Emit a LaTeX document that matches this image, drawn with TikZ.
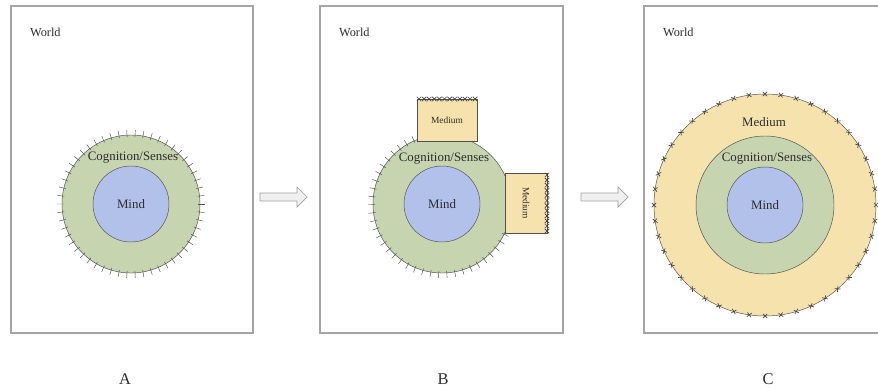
\documentclass[tikz,border=0pt]{standalone}
\usepackage{fontspec}
\setmainfont{Liberation Serif}
\usetikzlibrary{positioning}

\definecolor{senseGreen}{RGB}{198,212,176}
\definecolor{mindBlue}{RGB}{177,193,233}
\definecolor{mediumYellow}{RGB}{246,226,172}
\definecolor{edgeGray}{RGB}{80,80,80}
\definecolor{frameGray}{RGB}{165,165,165}
\definecolor{textGray}{RGB}{45,45,45}

\begin{document}
\begin{tikzpicture}[x=0.03cm,y=-0.03cm,
    every node/.style={text=textGray},
    frame/.style={draw=frameGray,line width=1.6pt},
    senses/.style={circle,draw=edgeGray,fill=senseGreen,minimum size=4.14cm,inner sep=0pt},
    mind/.style={circle,draw=edgeGray,fill=mindBlue,minimum size=2.28cm,inner sep=0pt,font=\fontsize{11}{13}\selectfont},
    medium/.style={circle,draw=edgeGray,fill=mediumYellow,minimum size=6.66cm,inner sep=0pt},
    mediumbox/.style={draw=edgeGray,fill=mediumYellow,inner sep=0pt,font=\footnotesize},
    label/.style={font=\fontsize{11}{13}\selectfont},
    world/.style={anchor=west,font=\fontsize{10.5}{12}\selectfont},
    tickline/.style={edgeGray,line width=0.4pt},
    xmark/.style={edgeGray!80!black,line width=0.55pt},
    blockarrow/.style={draw=gray!75,fill=gray!12,line width=0.6pt},
    panellabel/.style={font=\fontsize{14}{16}\selectfont}]
    \clip (0,0) rectangle (878,389);

    % panels
    \draw[frame] (11,6) rectangle (253,333);
    \draw[frame] (320,6) rectangle (563,333);
    \draw[frame] (644,6) rectangle (890,333);
    \node[world] (worldA) at (26,32) {World};
    \node[world] (worldB) at (335,32) {World};
    \node[world] (worldC) at (659,32) {World};

    % A
    \node[senses] (sensesA) at (131,204) {};
    \foreach \a in {0,6.667,...,359} {
        \draw[tickline,shift={(131,204)}] (\a:67) -- (\a:74);
    }
    \node[mind] (mindA) at (131,204) {Mind};
    \node[label] (cogA) at (133,158) {Cognition/Senses};

    % B
    \node[senses] (sensesB) at (442,204) {};
    \foreach \a in {26,32.67,...,247} {
        \draw[tickline,shift={(442,204)}] (\a:67) -- (\a:74);
    }
    \node[mind] (mindB) at (442,204) {Mind};
    \node[label] (cogB) at (444,159) {Cognition/Senses};
    \node[mediumbox,minimum width=1.8cm,minimum height=1.26cm] (mediumTop) at (447,120) {Medium};
    \node[mediumbox,minimum width=1.26cm,minimum height=1.8cm] (mediumRight) at (526,203) {\rotatebox{-90}{Medium}};
    \foreach \i in {0,...,11} {
        \draw[xmark] (419+\i*5.1,99) +(-2.2,-2.2) -- +(2.2,2.2) +(-2.2,2.2) -- +(2.2,-2.2);
        \draw[xmark] (547,175+\i*5.1) +(-2.2,-2.2) -- +(2.2,2.2) +(-2.2,2.2) -- +(2.2,-2.2);
    }

    % C
    \node[medium] (mediumC) at (765,205) {};
    \foreach \a in {0,8.18,...,359} {
        \draw[xmark,shift={(765,205)}] (\a:111) +(\a+45:3) -- +(\a+225:3) +(\a-45:3) -- +(\a+135:3);
    }
    \node[senses] (sensesC) at (765,205) {};
    \node[mind] (mindC) at (765,205) {Mind};
    \node[label] (cogC) at (767,159) {Cognition/Senses};
    \node[label] (medC) at (764,122) {Medium};

    % arrows
    \draw[blockarrow] (260,193) -- (297,193) -- (297,187) -- (307,197) -- (297,207) -- (297,201) -- (260,201) -- cycle;
    \draw[blockarrow] (581,193) -- (618,193) -- (618,187) -- (628,197) -- (618,207) -- (618,201) -- (581,201) -- cycle;

    \node[panellabel] (labA) at (125,379) {A};
    \node[panellabel] (labB) at (443,379) {B};
    \node[panellabel] (labC) at (768,379) {C};
\end{tikzpicture}
\end{document}
